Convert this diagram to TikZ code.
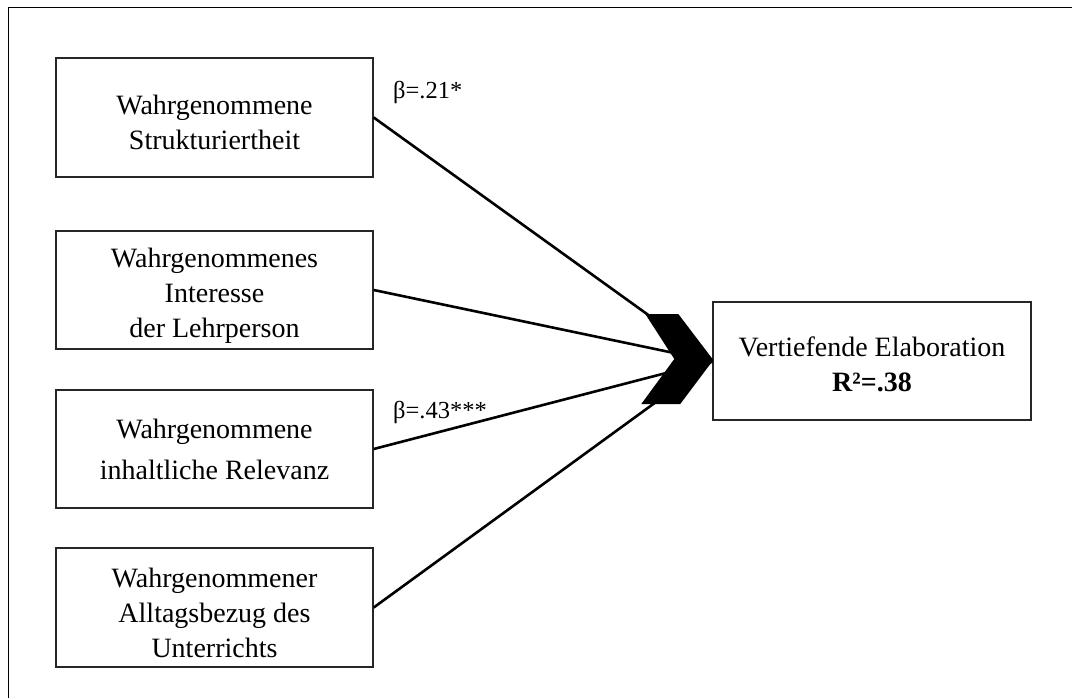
\documentclass[tikz,border=0pt]{standalone}
\usepackage{fontspec}
\setmainfont{Liberation Serif}
\newcommand\lowrule[1]{\rule{0pt}{#1}}
\begin{document}
\begin{tikzpicture}[x=1pt,y=-1pt,
  box/.style={draw=black!85, line width=1.4pt, rectangle, align=center,
    minimum width=317pt, minimum height=118pt, inner sep=0pt,
    font=\fontsize{28}{35}\selectfont},
  conn/.style={line width=2.6pt, black},
  coef/.style={anchor=base west, inner sep=0pt, font=\fontsize{24.5}{28}\selectfont}]
\useasboundingbox (0,0) rectangle (1072,697);
\draw[line width=1.5pt] (8.5,700) -- (8.5,7.5) -- (1075,7.5);

\node[box, minimum height=119pt] (b1) at (214.5,117.5) {\lowrule{29pt}Wahrgenommene\\Strukturiertheit};
\node[box] (b2) at (214.5,290) {\lowrule{30pt}Wahrgenommenes\\Interesse\\der Lehrperson};
\node[box] (b3) at (214.5,449) {Wahrgenommene\\[6pt]inhaltliche Relevanz};
\node[box, minimum height=119pt] (b4) at (214.5,607.5) {\lowrule{30pt}Wahrgenommener\\Alltagsbezug des\\Unterrichts};
\node[box, minimum width=318pt] (t) at (872,361) {\lowrule{26pt}Vertiefende Elaboration\\\textbf{R²=.38}};

\draw[conn] (b1.east) -- (t.west);
\draw[conn] (b2.east) -- (t.west);
\draw[conn] (b3.east) -- (t.west);
\draw[conn] (b4.east) -- (t.west);

\fill[black, shift={(t.west)}] (1,-1) -- (-34,-47) -- (-67,-47) -- (-38,-2)
  -- (-71,43) -- (-32,43) -- cycle;

\node[coef] (c1) at (393,98) {β=.21*};
\node[coef] (c3) at (393,418) {β=.43***};
\end{tikzpicture}
\end{document}
